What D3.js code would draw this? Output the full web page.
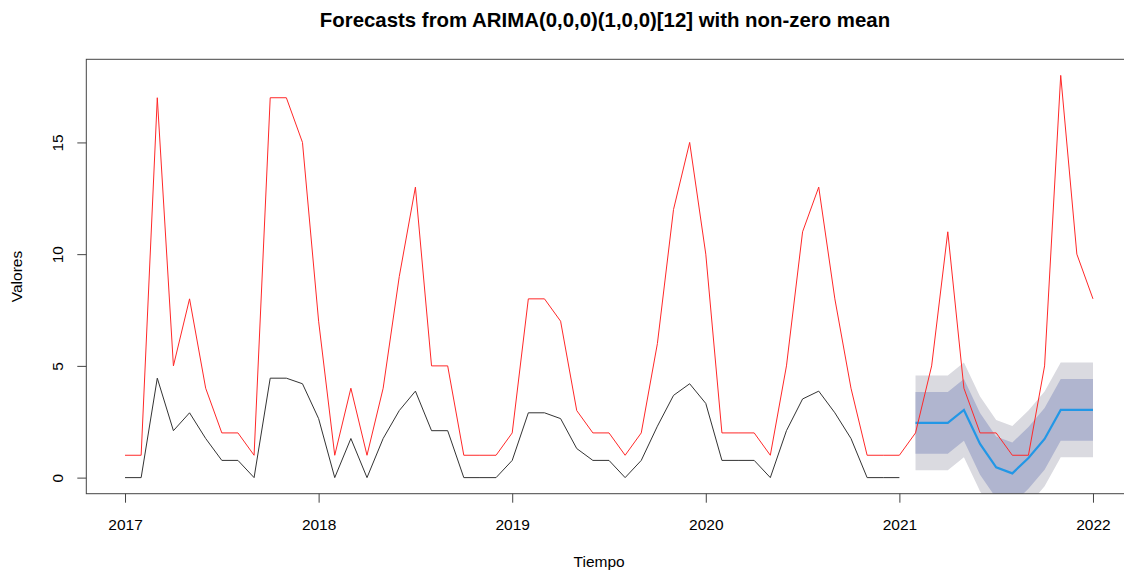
<!DOCTYPE html>
<html>
<head>
<meta charset="utf-8">
<script src="https://cdn.jsdelivr.net/npm/d3@7"></script>
<style>
  body { margin: 0; background: #fff; }
  svg { font-family: "Liberation Sans", Arial, sans-serif; }
</style>
</head>
<body>
<script>
// observed series (Jan 2017 .. Jan 2022), monthly
var startYear = 2017;
var redValues = [
  1, 1, 17, 5, 8, 4, 2, 2, 1, 17, 17, 15,
  7, 1, 4, 1, 4, 9, 13, 5, 5, 1, 1, 1,
  2, 8, 8, 7, 3, 2, 2, 1, 2, 6, 12, 15,
  10, 2, 2, 2, 1, 5, 11, 13, 8, 4, 1, 1,
  1, 2, 5, 11, 4, 2, 2, 1, 1, 5, 18, 10,
  8
];
// transformed training series (Jan 2017 .. Jan 2021)
var blackValues = [
  0, 0, 4.45, 2.1, 2.9, 1.75, 0.77, 0.77, 0, 4.45, 4.45, 4.2,
  2.64, 0, 1.75, 0, 1.75, 3.0, 3.87, 2.1, 2.1, 0, 0, 0,
  0.77, 2.9, 2.9, 2.64, 1.3, 0.77, 0.77, 0, 0.77, 2.3, 3.68, 4.2,
  3.32, 0.77, 0.77, 0.77, 0, 2.1, 3.52, 3.87, 2.9, 1.75, 0, 0,
  0
];
// forecasts Feb 2021 .. Jan 2022
var fcStart = 2021 + 1 / 12;
var fcMean = [2.45, 2.45, 2.45, 3.03, 1.51, 0.46, 0.19, 0.88, 1.73, 3.03, 3.03, 3.03];
var fcLo80 = [1.07, 1.07, 1.07, 1.65, 0.13, -0.92, -1.19, -0.50, 0.35, 1.65, 1.65, 1.65];
var fcHi80 = [3.83, 3.83, 3.83, 4.41, 2.89, 1.84, 1.57, 2.26, 3.11, 4.41, 4.41, 4.41];
var fcLo95 = [0.33, 0.33, 0.33, 0.91, -0.61, -1.66, -1.93, -1.24, -0.39, 0.91, 0.91, 0.91];
var fcHi95 = [4.57, 4.57, 4.57, 5.15, 3.63, 2.58, 2.31, 3.00, 3.85, 5.15, 5.15, 5.15];

var xTicks = [2017, 2018, 2019, 2020, 2021, 2022];
var yTicks = [0, 5, 10, 15];

var titleText = "Forecasts from ARIMA(0,0,0)(1,0,0)[12] with non-zero mean";

var W = 1124, H = 570;
var pLeft = 86.3, pRight = 1131.7, pTop = 59.3, pBottom = 493.7;
var fontSize = 15.5;

var svg = d3.select("body").append("svg")
  .attr("width", W)
  .attr("height", H);

var x = d3.scaleLinear().domain([2016.8, 2022.2]).range([pLeft, pRight]);
var y = d3.scaleLinear().domain([-0.72, 18.72]).range([pBottom, pTop]);

svg.append("clipPath").attr("id", "clip")
  .append("rect")
  .attr("x", pLeft).attr("y", pTop)
  .attr("width", pRight - pLeft).attr("height", pBottom - pTop);

var plot = svg.append("g").attr("clip-path", "url(#clip)");

function series(values, start) {
  return values.map(function (v, i) { return { t: start + i / 12, v: v }; });
}
var fc = fcMean.map(function (m, i) {
  return { t: fcStart + i / 12, m: m, lo80: fcLo80[i], hi80: fcHi80[i], lo95: fcLo95[i], hi95: fcHi95[i] };
});

var band = function (lo, hi) {
  return d3.area()
    .x(function (d) { return x(d.t); })
    .y0(function (d) { return y(d[lo]); })
    .y1(function (d) { return y(d[hi]); });
};

plot.append("path").datum(fc)
  .attr("d", band("lo95", "hi95"))
  .attr("fill", "#dadae0");
plot.append("path").datum(fc)
  .attr("d", band("lo80", "hi80"))
  .attr("fill", "#b0b5cf");

var line = d3.line()
  .x(function (d) { return x(d.t); })
  .y(function (d) { return y(d.v); });

plot.append("path").datum(series(blackValues, startYear))
  .attr("d", line)
  .attr("fill", "none")
  .attr("stroke", "#333")
  .attr("stroke-width", 1);

plot.append("path").datum(fc)
  .attr("d", d3.line().x(function (d) { return x(d.t); }).y(function (d) { return y(d.m); }))
  .attr("fill", "none")
  .attr("stroke", "#2297e6")
  .attr("stroke-width", 2.2);

plot.append("path").datum(series(redValues, startYear))
  .attr("d", line)
  .attr("fill", "none")
  .attr("stroke", "#ff2828")
  .attr("stroke-width", 1);

// box
svg.append("rect")
  .attr("x", pLeft).attr("y", pTop)
  .attr("width", pRight - pLeft).attr("height", pBottom - pTop)
  .attr("fill", "none")
  .attr("stroke", "#444")
  .attr("stroke-width", 1);

// x axis
var xAxis = svg.append("g")
  .attr("transform", "translate(0," + pBottom + ")")
  .call(d3.axisBottom(x).tickValues(xTicks).tickFormat(d3.format("d")).tickSize(9).tickSizeOuter(0));
xAxis.select(".domain").remove();
xAxis.selectAll("line").attr("stroke", "#444");
xAxis.selectAll("text")
  .attr("y", 30.5)
  .attr("dy", "0.35em")
  .attr("font-size", fontSize)
  .attr("font-family", "Liberation Sans, Arial, sans-serif")
  .attr("fill", "#000");

// y axis
var yAxis = svg.append("g")
  .attr("transform", "translate(" + pLeft + ",0)")
  .call(d3.axisLeft(y).tickValues(yTicks).tickFormat(d3.format("d")).tickSize(9).tickSizeOuter(0));
yAxis.select(".domain").remove();
yAxis.selectAll("line").attr("stroke", "#444");
yAxis.selectAll("text")
  .attr("x", null).attr("dy", null)
  .attr("transform", "translate(-29,0) rotate(-90)")
  .attr("text-anchor", "middle")
  .attr("dominant-baseline", "central")
  .attr("font-size", fontSize)
  .attr("font-family", "Liberation Sans, Arial, sans-serif")
  .attr("fill", "#000");

// labels
svg.append("text")
  .attr("x", 605).attr("y", 20)
  .attr("text-anchor", "middle")
  .attr("dominant-baseline", "central")
  .attr("font-weight", "bold")
  .attr("font-size", 20.4)
  .text(titleText);

svg.append("text")
  .attr("x", (pLeft + 1112) / 2).attr("y", 561)
  .attr("text-anchor", "middle")
  .attr("dominant-baseline", "central")
  .attr("font-size", fontSize)
  .text("Tiempo");

svg.append("text")
  .attr("transform", "translate(16," + (pTop + pBottom) / 2 + ") rotate(-90)")
  .attr("text-anchor", "middle")
  .attr("dominant-baseline", "central")
  .attr("font-size", fontSize)
  .text("Valores");
</script>
</body>
</html>
